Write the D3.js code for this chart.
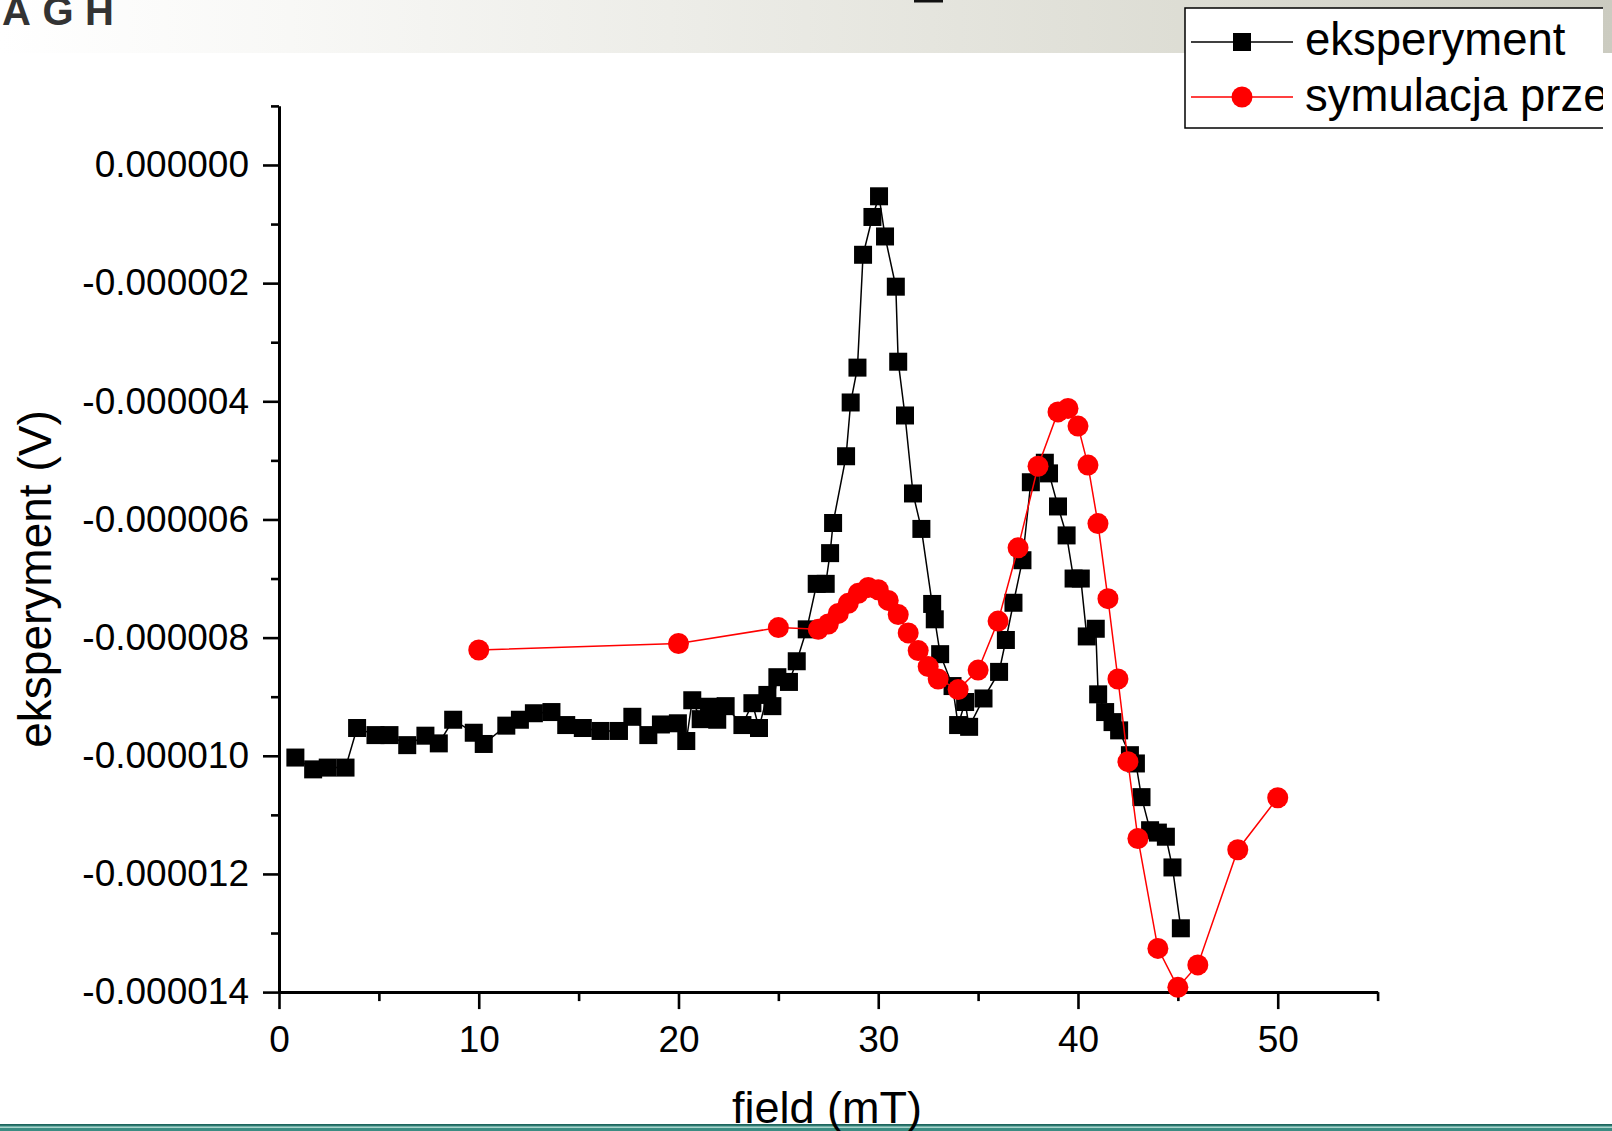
<!DOCTYPE html>
<html><head><meta charset="utf-8">
<script src="https://cdn.jsdelivr.net/npm/d3@7"></script>
<style>body{margin:0;background:#fff;overflow:hidden;} svg{display:block;font-family:"Liberation Sans",Arial,sans-serif;}</style>
</head><body><svg id="c" width="1612" height="1131"></svg>
<script>
// ---- data ----
const expField = [0.82,1.71,2.44,3.33,3.91,4.83,5.53,6.42,7.33,8.00,8.72,9.75,10.25,11.38,12.06,12.76,13.64,14.38,15.21,16.10,17.02,17.69,18.49,19.12,19.97,20.39,20.69,21.11,21.53,21.94,22.36,23.20,23.70,24.03,24.45,24.70,24.95,25.53,25.92,26.42,26.92,27.37,27.59,27.74,28.39,28.62,28.96,29.24,29.71,30.04,30.34,30.88,31.00,31.34,31.74,32.16,32.70,32.83,33.10,33.72,34.00,34.35,34.55,35.27,36.05,36.39,36.77,37.22,37.64,38.34,38.55,39.00,39.43,39.78,40.14,40.44,40.89,41.01,41.36,41.73,42.06,42.60,42.90,43.18,43.61,44.00,44.40,44.73,45.15];
const expSignal = [-10.03e-6,-10.23e-6,-10.20e-6,-10.20e-6,-9.53e-6,-9.65e-6,-9.65e-6,-9.82e-6,-9.66e-6,-9.79e-6,-9.39e-6,-9.61e-6,-9.80e-6,-9.49e-6,-9.39e-6,-9.28e-6,-9.26e-6,-9.48e-6,-9.53e-6,-9.58e-6,-9.58e-6,-9.34e-6,-9.65e-6,-9.47e-6,-9.45e-6,-9.75e-6,-9.06e-6,-9.38e-6,-9.17e-6,-9.39e-6,-9.16e-6,-9.48e-6,-9.11e-6,-9.53e-6,-8.97e-6,-9.16e-6,-8.67e-6,-8.75e-6,-8.40e-6,-7.86e-6,-7.09e-6,-7.09e-6,-6.57e-6,-6.06e-6,-4.93e-6,-4.02e-6,-3.43e-6,-1.52e-6,-0.88e-6,-0.53e-6,-1.21e-6,-2.06e-6,-3.33e-6,-4.24e-6,-5.56e-6,-6.16e-6,-7.43e-6,-7.69e-6,-8.28e-6,-8.82e-6,-9.48e-6,-9.09e-6,-9.51e-6,-9.03e-6,-8.58e-6,-8.04e-6,-7.41e-6,-6.69e-6,-5.37e-6,-5.04e-6,-5.22e-6,-5.78e-6,-6.27e-6,-7.00e-6,-7.00e-6,-7.98e-6,-7.85e-6,-8.96e-6,-9.26e-6,-9.43e-6,-9.57e-6,-9.99e-6,-10.13e-6,-10.70e-6,-11.26e-6,-11.30e-6,-11.37e-6,-11.89e-6,-12.92e-6];
const simField = [10,20,25,27,27.5,28,28.5,29,29.5,30,30.5,31,31.5,32,32.5,33,34,35,36,37,38,39,39.5,40,40.5,41,41.5,42,42.5,43,44,45,46,48,50];
const simSignal = [-8.21e-6,-8.10e-6,-7.83e-6,-7.86e-6,-7.77e-6,-7.59e-6,-7.42e-6,-7.25e-6,-7.15e-6,-7.19e-6,-7.37e-6,-7.61e-6,-7.92e-6,-8.22e-6,-8.49e-6,-8.70e-6,-8.88e-6,-8.55e-6,-7.72e-6,-6.48e-6,-5.10e-6,-4.18e-6,-4.12e-6,-4.42e-6,-5.08e-6,-6.07e-6,-7.34e-6,-8.70e-6,-10.10e-6,-11.40e-6,-13.26e-6,-13.92e-6,-13.54e-6,-11.59e-6,-10.71e-6];
const seriesNames = ["eksperyment","symulacja prze"];
const xTickValues = [0,10,20,30,40,50];
const xMinorTicks = [5,15,25,35,45,55];
const yTickValues = [0,-2e-6,-4e-6,-6e-6,-8e-6,-10e-6,-12e-6,-14e-6];
const yMinorTicks = [1e-6,-1e-6,-3e-6,-5e-6,-7e-6,-9e-6,-11e-6,-13e-6];
const xTitle = "field (mT)";
const yTitle = "eksperyment (V)";
const logoText = "AGH";

// ---- drawing ----
const svg = d3.select("#c");
const defs = svg.append("defs");
const hg = defs.append("linearGradient").attr("id","hdr").attr("x1","0").attr("x2","1").attr("y1","0").attr("y2","0");
[[0,"#ffffff"],[0.18,"#f8f8f6"],[0.5,"#e9e9e3"],[0.75,"#dcdcd3"],[1,"#cbcbc0"]].forEach(s=>hg.append("stop").attr("offset",s[0]).attr("stop-color",s[1]));
defs.append("clipPath").attr("id","legclip").append("rect").attr("x",0).attr("y",0).attr("width",1603).attr("height",200);

// header band
svg.append("rect").attr("x",0).attr("y",0).attr("width",1612).attr("height",53).attr("fill","url(#hdr)");
svg.append("text").attr("x",2).attr("y",25).attr("font-size",40).attr("font-weight","bold")
  .attr("fill","#333").attr("textLength",112).attr("lengthAdjust","spacing").text(logoText);
svg.append("rect").attr("x",914).attr("y",0).attr("width",29).attr("height",2.5).attr("fill","#111");

// bottom bar
svg.append("rect").attr("x",0).attr("y",1124).attr("width",1612).attr("height",7).attr("fill","#3b8c82");
svg.append("rect").attr("x",0).attr("y",1124).attr("width",1612).attr("height",1.5).attr("fill","#1e655d");
svg.append("rect").attr("x",0).attr("y",1126.5).attr("width",1612).attr("height",1.5).attr("fill","#a9d3cc");

const x = d3.scaleLinear().domain([0,55]).range([279,1377.6]);
const y = d3.scaleLinear().domain([-14e-6,1e-6]).range([992.1,105.9]);
const fmt = v => (Math.abs(v)<1e-12 ? 0 : v).toFixed(6);

function styleAxis(g){
  g.select(".domain").attr("stroke","#000").attr("stroke-width",3);
  g.selectAll(".tick line").attr("stroke","#000").attr("stroke-width",2.6);
  g.selectAll(".tick text").attr("fill","#000").attr("font-size",37).attr("font-family","Liberation Sans, Arial, sans-serif");
}
// minor ticks
const gyMin = svg.append("g").attr("transform","translate(279,0)")
  .call(d3.axisLeft(y).tickValues(yMinorTicks).tickSize(8).tickSizeOuter(0).tickFormat(""));
styleAxis(gyMin);
const gxMin = svg.append("g").attr("transform","translate(0,992.1)")
  .call(d3.axisBottom(x).tickValues(xMinorTicks).tickSize(9).tickSizeOuter(0).tickFormat(""));
styleAxis(gxMin);
// major
const gy = svg.append("g").attr("transform","translate(279,0)")
  .call(d3.axisLeft(y).tickValues(yTickValues).tickSize(16).tickSizeOuter(0).tickPadding(14).tickFormat(fmt));
styleAxis(gy);
const gx = svg.append("g").attr("transform","translate(0,992.1)")
  .call(d3.axisBottom(x).tickValues(xTickValues).tickSize(17).tickSizeOuter(0).tickPadding(17).tickFormat(d3.format("d")));
styleAxis(gx);

// titles
svg.append("text").attr("x",827).attr("y",1123).attr("text-anchor","middle").attr("font-size",45).attr("fill","#000").text(xTitle);
svg.append("text").attr("transform","translate(51,579) rotate(-90)").attr("text-anchor","middle").attr("font-size",46).attr("fill","#000").text(yTitle);

// series
const expData = expField.map((f,i)=>[f,expSignal[i]]);
const simData = simField.map((f,i)=>[f,simSignal[i]]);
const line = d3.line().x(d=>x(d[0])).y(d=>y(d[1]));
const sq = 18;
svg.append("path").datum(expData).attr("d",line).attr("fill","none").attr("stroke","#000").attr("stroke-width",1.5);
svg.append("g").selectAll("rect").data(expData).join("rect")
  .attr("x",d=>x(d[0])-sq/2).attr("y",d=>y(d[1])-sq/2).attr("width",sq).attr("height",sq).attr("fill","#000");
svg.append("path").datum(simData).attr("d",line).attr("fill","none").attr("stroke","#ff0000").attr("stroke-width",1.5);
svg.append("g").selectAll("circle").data(simData).join("circle")
  .attr("cx",d=>x(d[0])).attr("cy",d=>y(d[1])).attr("r",10.5).attr("fill","#ff0000");

// legend
const lg = svg.append("g").attr("clip-path","url(#legclip)");
lg.append("rect").attr("x",1185).attr("y",8).attr("width",500).attr("height",120).attr("fill","#fff").attr("stroke","#000").attr("stroke-width",1.5);
lg.append("line").attr("x1",1191).attr("x2",1293).attr("y1",42).attr("y2",42).attr("stroke","#000").attr("stroke-width",1.5);
lg.append("rect").attr("x",1242-sq/2).attr("y",42-sq/2).attr("width",sq).attr("height",sq).attr("fill","#000");
lg.append("line").attr("x1",1191).attr("x2",1293).attr("y1",97).attr("y2",97).attr("stroke","#ff0000").attr("stroke-width",1.5);
lg.append("circle").attr("cx",1242).attr("cy",97).attr("r",10.5).attr("fill","#ff0000");
lg.append("text").attr("x",1305).attr("y",55).attr("font-size",45.5).attr("fill","#000").text(seriesNames[0]);
lg.append("text").attr("x",1305).attr("y",111).attr("font-size",45.5).attr("fill","#000").text(seriesNames[1]);
</script></body></html>
